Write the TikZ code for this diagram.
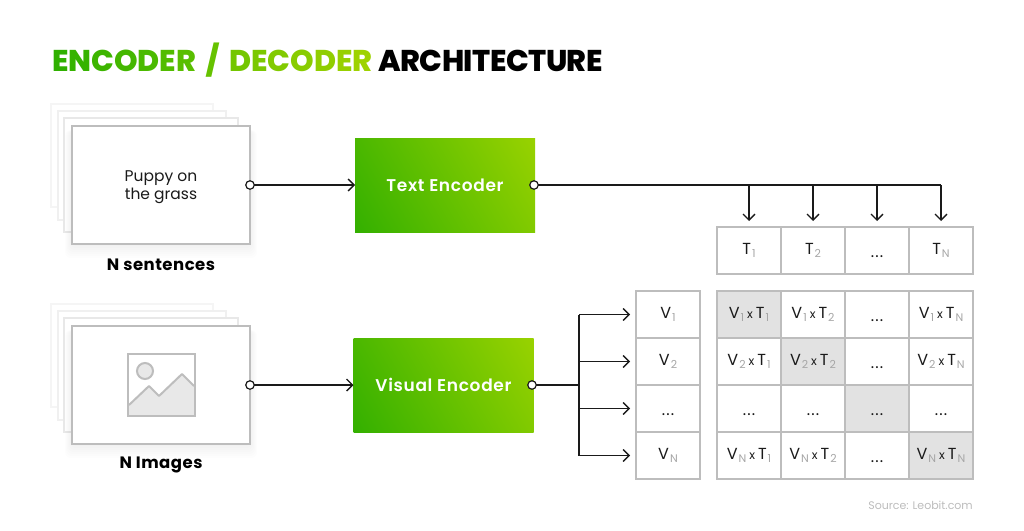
\documentclass[tikz,border=0pt]{standalone}
\usepackage{fontspec}
\setmainfont{Poppins}
\newfontfamily\titlef{Poppins ExtraBold}
\newfontfamily\archf[LetterSpace=-1.7]{Poppins ExtraBold}
\newfontfamily\encf[LetterSpace=4]{Poppins SemiBold}
\newfontfamily\capf[LetterSpace=3]{Poppins Bold}
\usetikzlibrary{arrows.meta,calc}
\definecolor{gridc}{HTML}{BDBDBD}
\definecolor{shadec}{HTML}{E2E2E2}
\definecolor{subc}{HTML}{A6A6A6}
\definecolor{inkc}{HTML}{1A1A1A}
\definecolor{gA}{HTML}{1CA800}
\definecolor{gB}{HTML}{B0DA00}
\pgfdeclareverticalshading{encshade}{100bp}{color(0bp)=(gA); color(100bp)=(gB)}
\newcommand{\lowg}[1]{\raisebox{-0.3ex}{\kern1pt\textcolor{subc}{\fontsize{11}{11}\selectfont #1}}}
\newcommand{\vt}[2]{V\lowg{#1}\kern3pt{\fontsize{12}{12}\selectfont x}\kern3pt T\lowg{#2}}
\newcommand{\ltr}[2]{\textcolor[HTML]{#1}{#2}}
\newcommand{\dotsy}{\raisebox{-6.5pt}[0pt][0pt]{.\kern1.2pt.\kern1.2pt.}}
\tikzset{
  x=1pt,y=-1pt,
  card/.style={draw=gridc,line width=1.2pt,fill=white,minimum width=178pt,minimum height=118pt,inner sep=0pt,outer sep=0pt},
  back/.style={draw=#1,line width=1.2pt,fill=white,inner sep=0pt,outer sep=0pt},
  cell/.style={draw=gridc,line width=1.2pt,fill=white,minimum width=64pt,minimum height=47pt,inner sep=0pt,outer sep=0pt,font=\fontsize{16}{16}\selectfont,text=inkc},
  hit/.style={cell,fill=shadec},
  enc/.style={minimum width=180pt,minimum height=94pt,inner sep=0pt,outer sep=0pt,shading=encshade,shading angle=-60,text=white,font=\fontsize{17}{17}\encf},
  dotp/.style={circle,draw=inkc,line width=1.2pt,fill=white,minimum size=8.5pt,inner sep=0pt,outer sep=0pt},
  flow/.style={draw=inkc,line width=1.4pt},
  arrowed/.style={flow,-{Straight Barb[length=6pt,width=12pt,line width=1.3pt]}},
  caption/.style={font=\fontsize{16.5}{16.5}\capf,text=black},
}
\begin{document}
\begin{tikzpicture}
\useasboundingbox (0,0) rectangle (1024,530);
\fill[white] (0,0) rectangle (1024,530);
% title
\node[anchor=base west,inner sep=0pt,font=\fontsize{30}{30}\titlef] (title) at (52,71) {%
\ltr{2FB000}{E}\ltr{36B300}{N}\ltr{3DB500}{C}\ltr{44B700}{O}\ltr{4BBA00}{D}\ltr{52BC00}{E}\ltr{59BE00}{R} \kern5pt\ltr{66C200}{/}\kern4pt{} \ltr{74C600}{D}\ltr{7BC800}{E}\ltr{82CA00}{C}\ltr{89CC00}{O}\ltr{90CE00}{D}\ltr{97D000}{E}\ltr{9ED200}{R} \textcolor{black}{\archf ARCHITECTURE}};
% top stack
\node[back=gray!8,minimum width=162pt,minimum height=103pt] (s1a) at (132,155.5) {};
\node[back=gray!12,minimum width=168pt,minimum height=109pt] (s1b) at (142,165.5) {};
\node[back=gray!18,minimum width=174pt,minimum height=114pt] (s1c) at (151,175) {};
\foreach \g in {1,...,7}{\fill[black,opacity=0.006,rounded corners=6pt] (72-\g,130) rectangle (250+\g,244+2*\g);}
\node[card] (c1) at (161,185) {};
\node[align=center,font=\fontsize{15.5}{18}\selectfont,text=inkc] (c1t) at (161,187.5) {Puppy on\\the grass};
\node[caption] (cap1) at (161,265) {N sentences};
% bottom stack
\node[back=gray!8,minimum width=162pt,minimum height=103pt] (s2a) at (132,355.5) {};
\node[back=gray!12,minimum width=168pt,minimum height=109pt] (s2b) at (142,365.5) {};
\node[back=gray!18,minimum width=174pt,minimum height=114pt] (s2c) at (151,375) {};
\foreach \g in {1,...,7}{\fill[black,opacity=0.006,rounded corners=6pt] (72-\g,330) rectangle (250+\g,444+2*\g);}
\node[card] (c2) at (161,385) {};
\node[caption] (cap2) at (161,465) {N Images};
% image icon
\draw[gridc,line width=2pt,fill=white] (128,353.5) rectangle (194.5,416);
\fill[shadec!80!white] (129,405) -- (149,386) -- (159,396) -- (182,374) -- (194,386) -- (194,416) -- (129,416) -- cycle;
\draw[gridc,line width=2pt,line join=round] (129,405) -- (149,386) -- (159,396) -- (182,374) -- (194,386);
\draw[gridc,line width=2pt,fill=shadec!80!white] (145,371) circle (8);
\draw[gridc,line width=2pt] (128,353.5) rectangle (194.5,416);
% encoders
\node[enc] (te) at (445,185) {Text Encoder};
\node[enc] (ve) at (443.5,385) {Visual Encoder};
% T row
\node[cell] (t1) at (749,250.5) {T\lowg{1}};
\node[cell] (t2) at (813,250.5) {T\lowg{2}};
\node[cell] (t3) at (877,250.5) {\dotsy};
\node[cell] (t4) at (941,250.5) {T\lowg{N}};
% V column
\node[cell] (v1) at (668,314.5) {V\lowg{1}};
\node[cell] (v2) at (668,361.5) {V\lowg{2}};
\node[cell] (v3) at (668,408.5) {\dotsy};
\node[cell] (v4) at (668,455.5) {V\lowg{N}};
% matrix
\node[hit]  (m11) at (749,314.5) {\vt{1}{1}};
\node[cell] (m12) at (813,314.5) {\vt{1}{2}};
\node[cell] (m13) at (877,314.5) {\dotsy};
\node[cell] (m14) at (941,314.5) {\vt{1}{N}};
\node[cell] (m21) at (749,361.5) {\vt{2}{1}};
\node[hit]  (m22) at (813,361.5) {\vt{2}{2}};
\node[cell] (m23) at (877,361.5) {\dotsy};
\node[cell] (m24) at (941,361.5) {\vt{2}{N}};
\node[cell] (m31) at (749,408.5) {\dotsy};
\node[cell] (m32) at (813,408.5) {\dotsy};
\node[hit]  (m33) at (877,408.5) {\dotsy};
\node[cell] (m34) at (941,408.5) {\dotsy};
\node[cell] (m41) at (749,455.5) {\vt{N}{1}};
\node[cell] (m42) at (813,455.5) {\vt{N}{2}};
\node[cell] (m43) at (877,455.5) {\dotsy};
\node[hit]  (m44) at (941,455.5) {\vt{N}{N}};
% dots
\node[dotp] (d1) at (250,185) {};
\node[dotp] (d2) at (250,385) {};
\node[dotp] (d3) at (534,185) {};
\node[dotp] (d4) at (532,385) {};
% connectors
\draw[arrowed] (d1) -- (te.west);
\draw[arrowed] (d2) -- (ve.west);
\coordinate (tb) at (t4.north |- d3);
\draw[flow] (d3) -- (tb);
\foreach \n in {t1,t2,t3,t4}{\draw[arrowed,shorten >=6pt] (\n.north |- d3) -- (\n.north);}
\coordinate (vj) at (579,385);
\draw[flow] (d4) -- (vj);
\draw[flow] (vj |- v1) -- (vj |- v4);
\foreach \n in {v1,v2,v3,v4}{\draw[arrowed,shorten >=6pt] (vj |- \n) -- (\n.west);}
% source
\node[anchor=east,inner sep=0pt,font=\fontsize{11}{11}\selectfont,text=gridc] (src) at (973,505.5) {Source: Leobit.com};
\end{tikzpicture}
\end{document}
